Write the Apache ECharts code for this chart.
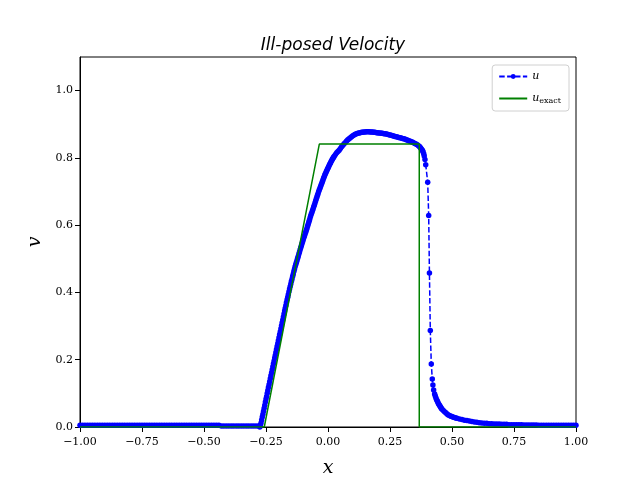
<!DOCTYPE html>
<html>
<head>
<meta charset="utf-8">
<script src="https://cdn.jsdelivr.net/npm/echarts@6/dist/echarts.min.js"></script>
<style>
  html, body { margin: 0; padding: 0; background: #fff; }
  #chart { width: 640px; height: 480px; }
</style>
</head>
<body>
<div id="chart"></div>
<script>
// numerical solution u, split by region
var uFlatLeft = [
  [-1.00,0.005],[-0.99,0.005],[-0.98,0.005],[-0.97,0.005],[-0.96,0.005],[-0.95,0.005],[-0.94,0.005],[-0.93,0.005],
  [-0.92,0.005],[-0.91,0.005],[-0.90,0.005],[-0.89,0.005],[-0.88,0.005],[-0.87,0.005],[-0.86,0.005],[-0.85,0.005],
  [-0.84,0.005],[-0.83,0.005],[-0.82,0.005],[-0.81,0.005],[-0.80,0.005],[-0.79,0.005],[-0.78,0.005],[-0.77,0.005],
  [-0.76,0.005],[-0.75,0.005],[-0.74,0.005],[-0.73,0.005],[-0.72,0.005],[-0.71,0.005],[-0.70,0.005],[-0.69,0.005],
  [-0.68,0.005],[-0.67,0.005],[-0.66,0.005],[-0.65,0.005],[-0.64,0.005],[-0.63,0.005],[-0.62,0.005],[-0.61,0.005],
  [-0.60,0.005],[-0.59,0.005],[-0.58,0.005],[-0.57,0.005],[-0.56,0.005],[-0.55,0.005],[-0.54,0.005],[-0.53,0.005],
  [-0.52,0.005],[-0.51,0.005],[-0.50,0.005],[-0.49,0.005],[-0.48,0.005],[-0.47,0.005],[-0.46,0.005],[-0.45,0.005],
  [-0.44,0.005],[-0.43,0.003],[-0.42,0.003],[-0.41,0.003],[-0.40,0.003],[-0.39,0.003],[-0.38,0.003],[-0.37,0.003],
  [-0.36,0.003],[-0.35,0.003],[-0.34,0.003],[-0.33,0.003],[-0.32,0.003],[-0.31,0.003],[-0.30,0.003],[-0.29,0.003],
  [-0.28,0.003]
];
var uRise = [
  [-0.275,0.0],[-0.2725,0.006],[-0.27,0.012],[-0.2675,0.021],[-0.265,0.03],[-0.2625,0.038],[-0.26,0.047],[-0.2575,0.056],
  [-0.255,0.065],[-0.2525,0.074],[-0.25,0.083],[-0.2475,0.091],[-0.245,0.1],[-0.2425,0.109],[-0.24,0.118],[-0.2375,0.126],
  [-0.235,0.135],[-0.2325,0.144],[-0.23,0.153],[-0.2275,0.161],[-0.225,0.17],[-0.2225,0.179],[-0.22,0.188],[-0.2175,0.196],
  [-0.215,0.205],[-0.2125,0.213],[-0.21,0.222],[-0.2075,0.231],[-0.205,0.24],[-0.2025,0.248],[-0.2,0.257],[-0.1975,0.266],
  [-0.195,0.275],[-0.1925,0.283],[-0.19,0.292],[-0.1875,0.301],[-0.185,0.31],[-0.1825,0.318],[-0.18,0.327],[-0.1775,0.336],
  [-0.175,0.345],[-0.1725,0.353],[-0.17,0.361],[-0.1675,0.37],[-0.165,0.378],[-0.1625,0.386],[-0.16,0.394],[-0.1575,0.402],
  [-0.155,0.41],[-0.1525,0.418],[-0.15,0.425],[-0.1475,0.433],[-0.145,0.44],[-0.1425,0.448],[-0.14,0.455],[-0.1375,0.463],
  [-0.135,0.47],[-0.1325,0.477],[-0.13,0.483],[-0.1275,0.489],[-0.125,0.495],[-0.1225,0.502],[-0.12,0.508],[-0.1175,0.514],
  [-0.115,0.52],[-0.1125,0.527],[-0.11,0.533],[-0.1075,0.539],[-0.105,0.545],[-0.1025,0.551],[-0.1,0.557],[-0.0975,0.563],
  [-0.095,0.568],[-0.0925,0.574],[-0.09,0.579],[-0.0875,0.585],[-0.085,0.59],[-0.0825,0.597],[-0.08,0.603],[-0.0775,0.609],
  [-0.075,0.615],[-0.0725,0.621],[-0.07,0.627],[-0.0675,0.633],[-0.065,0.638],[-0.0625,0.644],[-0.06,0.649],[-0.0575,0.655],
  [-0.055,0.66],[-0.0525,0.666],[-0.05,0.672],[-0.0475,0.678],[-0.045,0.683],[-0.0425,0.689],[-0.04,0.694],[-0.0375,0.7],
  [-0.035,0.705],[-0.0325,0.71],[-0.03,0.715],[-0.0275,0.72],[-0.025,0.725],[-0.0225,0.73],[-0.02,0.735],[-0.0175,0.74],
  [-0.015,0.745],[-0.0125,0.75],[-0.01,0.754],[-0.0075,0.758],[-0.005,0.762],[-0.0025,0.766],[0.0,0.77],[0.0025,0.774],
  [0.005,0.778],[0.0075,0.782],[0.01,0.785],[0.0125,0.789],[0.015,0.792],[0.0175,0.796],[0.02,0.799],[0.0225,0.802],
  [0.025,0.805],[0.03,0.81],[0.035,0.815],[0.04,0.819],
  [0.045,0.823],[0.05,0.828],[0.055,0.833],[0.06,0.838],[0.065,0.842],[0.07,0.846],[0.075,0.85],[0.08,0.854],
  [0.085,0.857],[0.09,0.86],[0.095,0.863],[0.1,0.866],[0.105,0.868],[0.11,0.87],[0.115,0.872],[0.12,0.873]
];
var uTop = [
  [0.125,0.874],[0.13,0.875],[0.135,0.876],[0.14,0.876],[0.145,0.877],[0.15,0.877],[0.155,0.878],[0.16,0.878],
  [0.165,0.878],[0.17,0.877],[0.175,0.877],[0.18,0.877],[0.185,0.876],[0.19,0.876],[0.195,0.875],[0.2,0.875],
  [0.205,0.874],[0.21,0.874],[0.215,0.873],[0.22,0.873],[0.225,0.872],[0.23,0.872],[0.235,0.871],[0.24,0.87],
  [0.245,0.869],[0.25,0.868],[0.255,0.867],[0.26,0.866],[0.265,0.865],[0.27,0.864],[0.275,0.863],[0.28,0.862],
  [0.285,0.861],[0.29,0.86],[0.295,0.859],[0.3,0.858],[0.305,0.857],[0.31,0.856],[0.315,0.854],[0.32,0.853],
  [0.325,0.851],[0.33,0.85],[0.335,0.848],[0.34,0.847],[0.345,0.845],[0.35,0.843],[0.355,0.841],[0.36,0.839],
  [0.365,0.836],[0.369,0.834],[0.372,0.831],[0.375,0.828],[0.378,0.825],[0.381,0.822],[0.383,0.818],[0.386,0.812],
  [0.388,0.806],[0.391,0.795]
];
var uDrop = [
  [0.394,0.78],[0.402,0.728],[0.406,0.629],[0.409,0.458],[0.4125,0.287],[0.4165,0.1875],[0.4205,0.143]
];
var uTail = [
  [0.423,0.125],[0.426,0.11],[0.43,0.098],[0.4325,0.092],[0.435,0.087],[0.4375,0.082],[0.44,0.078],[0.4425,0.074],
  [0.445,0.07],[0.4475,0.067],[0.45,0.064],[0.4525,0.061],[0.455,0.058],[0.4575,0.055],[0.46,0.053],[0.465,0.049],
  [0.47,0.045],[0.475,0.042],[0.48,0.039],[0.485,0.036],[0.49,0.034],[0.495,0.032],[0.50,0.031],[0.505,0.029],
  [0.51,0.028],[0.515,0.027],[0.52,0.026],[0.53,0.024],[0.54,0.022],[0.55,0.02],[0.56,0.019],[0.57,0.018],
  [0.58,0.016],[0.59,0.015],[0.60,0.014],
  [0.61,0.013],[0.62,0.012],[0.63,0.011],[0.64,0.011],[0.65,0.01],[0.66,0.01],[0.67,0.009],[0.68,0.009],
  [0.69,0.009],[0.70,0.008],[0.71,0.008],[0.72,0.008],[0.73,0.007],[0.74,0.007],[0.75,0.007],[0.76,0.007],
  [0.77,0.007],[0.78,0.007],[0.79,0.006],[0.80,0.006],[0.81,0.006],[0.82,0.006],[0.83,0.006],[0.84,0.006],
  [0.85,0.005],[0.86,0.005],[0.87,0.005],[0.88,0.005],[0.89,0.005],[0.90,0.005],[0.91,0.005],[0.92,0.005],
  [0.93,0.005],[0.94,0.005],[0.95,0.005],[0.96,0.005],[0.97,0.005],[0.98,0.005],[0.99,0.005],[1.00,0.005]
];

// exact solution
var exactX = [-1.0, -0.257, -0.035, 0.368, 0.368, 1.0];
var exactY = [0.0, 0.0, 0.841, 0.841, 0.0, 0.0];

var xTicks = [-1.0, -0.75, -0.5, -0.25, 0.0, 0.25, 0.5, 0.75, 1.0];
var yTicks = [0.0, 0.2, 0.4, 0.6, 0.8, 1.0];

var uData = uFlatLeft.concat(uRise, uTop, uDrop, uTail);
var exactData = exactX.map(function (x, i) { return [x, exactY[i]]; });

var serif = '"DejaVu Serif", "Liberation Serif", serif';
var chart = echarts.init(document.getElementById('chart'), null, { renderer: 'canvas' });

function fmtNum(v, d) {
    var s = Math.abs(v).toFixed(d);
    return (v < -1e-9 ? '\u2212' : '') + s;
}

var option = {
    animation: false,
    backgroundColor: '#fff',
    title: {
        text: 'Ill-posed Velocity',
        left: 328,
        textAlign: 'center',
        top: 32,
        textStyle: { fontFamily: '"DejaVu Sans", sans-serif', fontStyle: 'italic', fontWeight: 'normal', fontSize: 17, color: '#000' }
    },
    legend: {
        right: 71,
        top: 65,
        orient: 'vertical',
        backgroundColor: '#fff',
        borderColor: '#d0d0d0',
        borderWidth: 1,
        borderRadius: 3,
        padding: [6, 8, 6, 6],
        itemWidth: 28,
        itemHeight: 6,
        itemGap: 11,
        data: ['u', { name: 'u_exact', itemStyle: { opacity: 0 } }],
        formatter: function (name) {
            return name === 'u' ? '{i|u}' : '{i|u}{s|exact}';
        },
        textStyle: {
            color: '#000',
            rich: {
                i: { fontFamily: serif, fontStyle: 'italic', fontSize: 11, color: '#000' },
                s: { fontFamily: serif, fontSize: 8, color: '#000', verticalAlign: 'bottom', padding: [5, 0, 0, 0] }
            }
        }
    },
    grid: {
        left: 80, right: 64, top: 57, bottom: 53,
        outerBoundsMode: 'none',
        containLabel: false,
        show: true, borderColor: '#000', borderWidth: 1, backgroundColor: 'transparent'
    },
    xAxis: {
        type: 'value',
        min: xTicks[0], max: xTicks[xTicks.length - 1], interval: 0.25,
        name: 'x',
        nameLocation: 'middle',
        nameGap: 32,
        nameTextStyle: { fontFamily: serif, fontStyle: 'italic', fontSize: 19, color: '#000' },
        axisLine: { show: true, onZero: false, lineStyle: { color: '#000', width: 1 } },
        axisTick: { show: true, inside: false, length: 5, lineStyle: { color: '#000' } },
        axisLabel: {
            margin: 10, color: '#000', fontFamily: serif, fontSize: 11,
            formatter: function (v) { return fmtNum(v, 2); }
        },
        splitLine: { show: false }
    },
    yAxis: {
        type: 'value',
        min: yTicks[0], max: 1.1, interval: 0.2,
        name: 'v',
        nameLocation: 'middle',
        nameGap: 33,
        nameRotate: 90,
        nameTextStyle: { fontFamily: serif, fontStyle: 'italic', fontSize: 19, color: '#000' },
        axisLine: { show: true, onZero: false, lineStyle: { color: '#000', width: 1 } },
        axisTick: { show: true, inside: false, length: 5, lineStyle: { color: '#000' } },
        axisLabel: {
            margin: 7, color: '#000', fontFamily: serif, fontSize: 11, showMaxLabel: false,
            formatter: function (v) { return v > 1.05 ? '' : fmtNum(v, 1); }
        },
        splitLine: { show: false }
    },
    series: [
        {
            name: 'u',
            type: 'line',
            data: uData,
            symbol: 'circle',
            symbolSize: 5.5,
            showSymbol: true,
            showAllSymbol: true,
            clip: true,
            itemStyle: { color: '#0000ff' },
            lineStyle: { color: '#0000ff', width: 1.5, type: [5.5, 2.4] },
            z: 2
        },
        {
            name: 'u_exact',
            type: 'line',
            data: exactData,
            symbol: 'none',
            clip: true,
            itemStyle: { color: '#008000' },
            lineStyle: { color: '#008000', width: 1.5 },
            z: 3
        }
    ]
};

chart.setOption(option);
</script>
</body>
</html>
